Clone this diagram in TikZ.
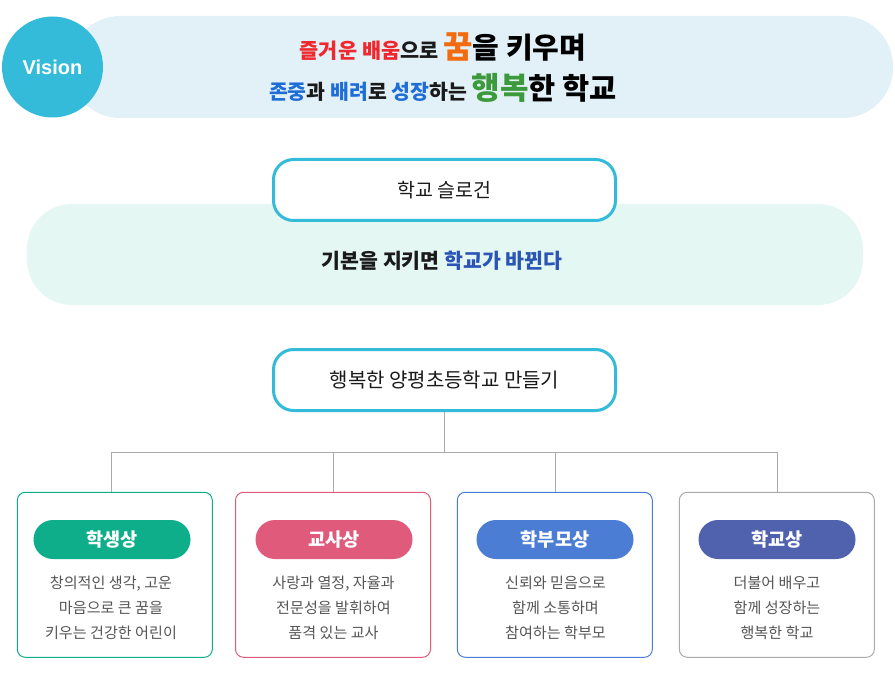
\documentclass[tikz,border=0pt]{standalone}
\usepackage{fontspec}
\setmainfont{Noto Sans CJK KR}
\newfontfamily\latinfont{Liberation Sans}
\definecolor{cyanb}{HTML}{33BBD9}
\definecolor{bannerbg}{HTML}{E2F1F7}
\definecolor{mintbg}{HTML}{E4F7F3}
\definecolor{redt}{HTML}{F0282D}
\definecolor{oranget}{HTML}{F26B0F}
\definecolor{bluet}{HTML}{1F6ED8}
\definecolor{greent}{HTML}{3C9A3C}
\definecolor{slogant}{HTML}{2B55B5}
\definecolor{darkt}{HTML}{1A1A1A}
\definecolor{desct}{HTML}{555555}
\definecolor{connc}{HTML}{AAAAAA}
\definecolor{cgreen}{HTML}{0EAE8A}
\definecolor{cpink}{HTML}{E05A7C}
\definecolor{cblue}{HTML}{4A7DD3}
\definecolor{cindigo}{HTML}{5062AE}
\definecolor{cgrey}{HTML}{AAAAAA}
\newcommand{\fs}[1]{\fontsize{#1}{#1}\selectfont}
\tikzset{
  mainbox/.style={draw=cyanb, line width=3pt, fill=white, rounded corners=20pt,
    minimum width=342pt, minimum height=61pt, inner sep=0pt, text=darkt},
  conn/.style={draw=connc, line width=1pt},
  card/.style={draw=#1, line width=1pt, fill=white, rounded corners=8pt,
    minimum width=195pt, minimum height=165pt, inner sep=0pt},
  pill/.style={fill=#1, rounded corners=19.5pt, minimum width=157pt,
    minimum height=39pt, inner sep=0pt, text=white, font=\fs{18.6}\bfseries},
  desc/.style={align=center, text=desct, font=\fontsize{15.1}{25}\selectfont, inner sep=0pt}
}
\begin{document}
\begin{tikzpicture}[x=1pt,y=-1pt]
\useasboundingbox (0,0) rectangle (895,674);
% Vision banner
\node[fill=bannerbg, rounded corners=50pt, minimum width=823pt, minimum height=102pt, inner sep=0pt] (banner) at (481.5,67) {};
\node[circle, fill=cyanb, minimum size=101pt, inner sep=0pt, text=white] (vision) at (52.5,67) {\latinfont\fs{20}\bfseries Vision};
\node[anchor=base, inner sep=0pt] (v1) at (443,59) {\bfseries\fs{20.8}\textcolor{redt}{즐거운 배움}\textcolor{darkt}{으로} \textcolor{oranget}{\fs{32}꿈}\textcolor{black}{\fs{29}을 키우며}};
\node[anchor=base, inner sep=0pt] (v2) at (443,100) {\bfseries\fs{20.5}\textcolor{bluet}{존중}\textcolor{darkt}{과} \textcolor{bluet}{배려}\textcolor{darkt}{로} \textcolor{bluet}{성장}\textcolor{darkt}{하는} \textcolor{greent}{\fs{31}행복}\textcolor{black}{\fs{29.5}한 학교}};
% Slogan
\node[fill=mintbg, rounded corners=45pt, minimum width=836pt, minimum height=101pt, inner sep=0pt] (sloganbg) at (445,254.5) {};
\node[mainbox] (slogan) at (444.5,190) {\raisebox{-1pt}{\fs{19.5}학교 슬로건}};
\node[inner sep=0pt] (slogantext) at (442,261) {\bfseries\fs{20.5}\textcolor{darkt}{기본을 지키면} \textcolor{slogant}{학교가 바뀐다}};
% Main goal
\node[mainbox] (goal) at (444.5,380) {\raisebox{-1pt}{\fs{20}행복한 양평초등학교 만들기}};
% connectors
\coordinate (hub) at (444.5,452);
\coordinate (j1) at (111.5,452);
\coordinate (j2) at (333.5,452);
\coordinate (j3) at (555.5,452);
\coordinate (j4) at (777.5,452);
% cards
\node[card=cgreen] (c1) at (114.8,574.8) {};
\node[card=cpink] (c2) at (333,574.8) {};
\node[card=cblue] (c3) at (554.8,574.8) {};
\node[card=cgrey] (c4) at (776.8,574.8) {};
\draw[conn] (goal.south) -- (hub);
\draw[conn] (j1) -- (j4);
\draw[conn] (j1) -- (j1 |- c1.north);
\draw[conn] (j2) -- (j2 |- c2.north);
\draw[conn] (j3) -- (j3 |- c3.north);
\draw[conn] (j4) -- (j4 |- c4.north);
\node[pill=cgreen] (p1) at (112,539.5) {학생상};
\node[pill=cpink] (p2) at (334,539.5) {교사상};
\node[pill=cblue] (p3) at (555,539.5) {학부모상};
\node[pill=cindigo] (p4) at (777,539.5) {학교상};
\node[desc] (d1) at (111,607.5) {창의적인 생각, 고운\\마음으로 큰 꿈을\\키우는 건강한 어린이};
\node[desc] (d2) at (333.5,607.5) {사랑과 열정, 자율과\\전문성을 발휘하여\\품격 있는 교사};
\node[desc] (d3) at (555.5,607.5) {신뢰와 믿음으로\\함께 소통하며\\참여하는 학부모};
\node[desc] (d4) at (777,607.5) {더불어 배우고\\함께 성장하는\\행복한 학교};
\end{tikzpicture}
\end{document}
